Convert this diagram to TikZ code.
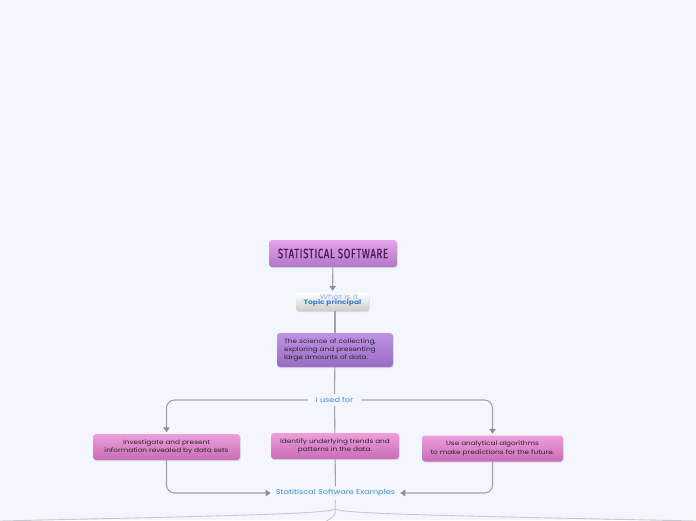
\documentclass[tikz,border=0pt]{standalone}
\usepackage{fontspec}
\setmainfont[FakeStretch=1.2]{Poppins}
\newfontfamily\titlefont[FakeStretch=0.72,LetterSpace=4,FakeBold=0.6]{Fira Sans}
\usetikzlibrary{arrows.meta,shadows}
\definecolor{bgcol}{HTML}{F3F6FE}
\definecolor{linecol}{HTML}{A0A3AC}
\definecolor{tipcol}{HTML}{8E9099}
\definecolor{bluetext}{HTML}{3A8BE6}
\definecolor{titletext}{HTML}{4A1F55}
\definecolor{titletop}{HTML}{E6A2EC}
\definecolor{titlebot}{HTML}{B276C4}
\definecolor{scitop}{HTML}{BE92E4}
\definecolor{scibot}{HTML}{9A6CC4}
\definecolor{pinktop}{HTML}{EE9EDC}
\definecolor{pinkbot}{HTML}{C86CB6}
\tikzset{
  box/.style={rounded corners=3pt,inner sep=0pt,align=center,
    drop shadow={opacity=0.22,shadow xshift=0.7pt,shadow yshift=-1.2pt},
    font=\fontsize{6.1}{8.4}\selectfont,text=black!85},
  titlebox/.style={box,top color=titletop,bottom color=titlebot,
    minimum width=128pt,minimum height=27pt,text=titletext,
    font=\titlefont\fontsize{13.5}{14}\selectfont},
  topicbox/.style={box,top color=white,bottom color=black!20,
    minimum width=73pt,minimum height=18pt},
  sciencebox/.style={box,top color=scitop,bottom color=scibot,
    text width=102pt,inner xsep=7pt,minimum height=34pt,align=left},
  pinkbox/.style={box,top color=pinktop,bottom color=pinkbot,
    minimum height=26pt},
  label/.style={text=bluetext,font=\fontsize{6.8}{8}\selectfont,inner xsep=8pt,inner ysep=3pt},
  link/.style={draw=linecol,line width=1.1pt},
  tip/.style={-{Triangle[length=5pt,width=6.5pt,color=tipcol]}},
  tail/.style={draw=linecol!60,line width=0.9pt}
}
\def\pinknode{\node[pinkbox]}

\begin{document}
\begin{tikzpicture}[x=1pt,y=-1pt]
\fill[bgcol] (0,0) rectangle (696,520);
\useasboundingbox (0,0) rectangle (696,520);
\node[titlebox] (title) at (333,253.5) {STATISTICAL SOFTWARE};
\node[topicbox] (topic) at (332.5,302) {};
\node[text=bluetext!60,font=\fontsize{7}{8}\selectfont] (whatis) at (339,297) {What is it};
\node[text=bluetext!90!black,font=\fontsize{6.3}{7}\selectfont\bfseries] (topictext) at (332.5,302.5) {Topic principal};
\node[sciencebox] (science) at (335,350) {The science of collecting,\\exploring and presenting\\large amounts of data.};
\node[label] (usedfor) at (334.5,400) {I used for};
\pinknode[minimum width=147pt] (invest) at (166.5,447) {Investigate and present\\information revealed by data sets};
\pinknode[minimum width=128pt] (ident) at (335,446) {Identify underlying trends and\\patterns in the data.};
\pinknode[minimum width=141pt] (use) at (492.5,448.5) {Use analytical algorithms\\to make predictions for the future.};
\node[label,inner xsep=5pt] (examples) at (335.5,493) {Statitiscal Software Examples};
\coordinate (fork) at (335,509);
\coordinate (farleft) at (0,521);
\coordinate (farright) at (696,521);
\coordinate (down) at (322,524);
\draw[link,tip,shorten >=2pt] (title) -- (topic);
\draw[link] (topic.south -| science.north) -- (science);
\draw[link] (science) -- (usedfor);
\draw[link] (usedfor) -- (ident);
\draw[link,tip,rounded corners=8pt,shorten >=1.5pt] (usedfor.west) -| (invest.north);
\draw[link,tip,rounded corners=8pt,shorten >=1.5pt] (usedfor.east) -| (use.north);
\draw[link] (ident) -- (examples);
\draw[link,tip,rounded corners=8pt] (invest.south) |- (examples.west);
\draw[link,tip,rounded corners=8pt] (use.south) |- (examples.east);
\draw[tail] (examples.south) -- (fork);
\draw[tail] (fork) .. controls (329,514) and (220,516) .. (farleft);
\draw[tail] (fork) .. controls (341,514) and (460,516) .. (farright);
\draw[tail] (fork) .. controls (336,515) .. (down);
\end{tikzpicture}
\end{document}
